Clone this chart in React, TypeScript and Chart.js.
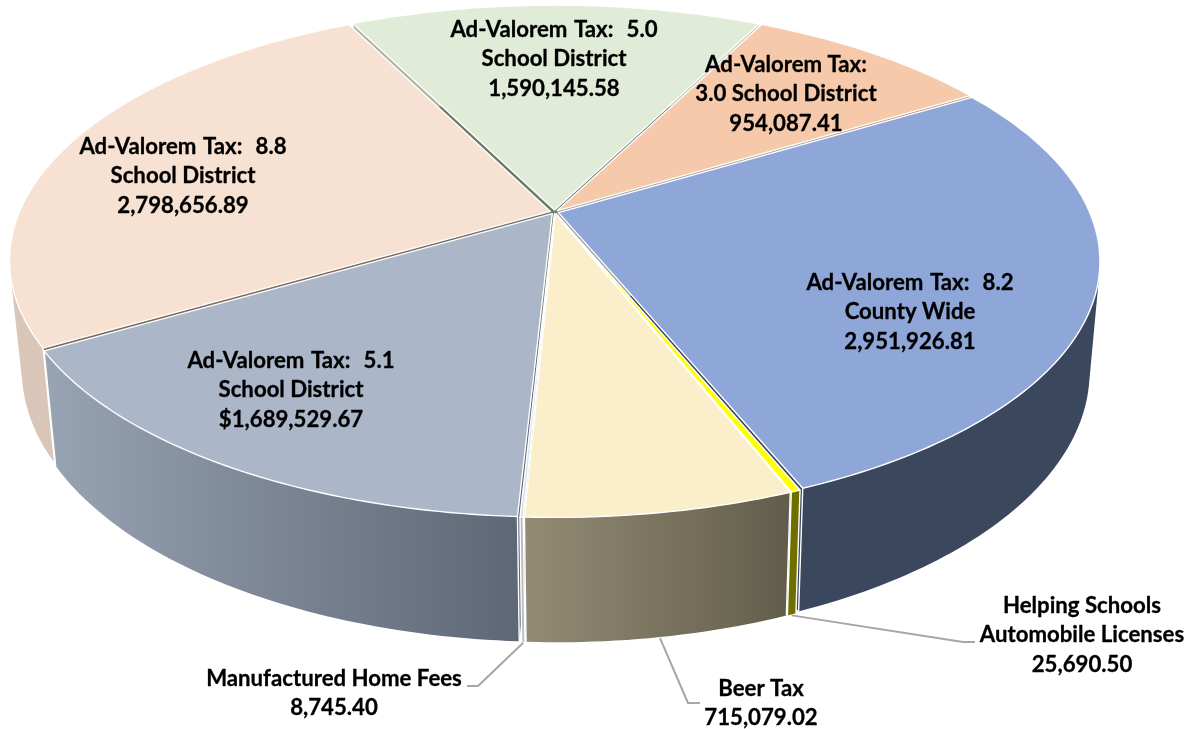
import React, { useEffect, useRef } from "react";
import { Chart, registerables } from "chart.js";

Chart.register(...registerables);

// ---- data ----
const categories = [
  "Ad-Valorem Tax: 8.2 County Wide",
  "Helping Schools Automobile Licenses",
  "Beer Tax",
  "Manufactured Home Fees",
  "Ad-Valorem Tax: 5.1 School District",
  "Ad-Valorem Tax: 8.8 School District",
  "Ad-Valorem Tax: 5.0 School District",
  "Ad-Valorem Tax: 3.0 School District",
];
const values = [2951926.81, 25690.5, 715079.02, 8745.4, 1689529.67, 2798656.89, 1590145.58, 954087.41];
const labelHeads = [
  ["Ad-Valorem Tax:  8.2", "County Wide"],
  ["Helping Schools", "Automobile Licenses"],
  ["Beer Tax"],
  ["Manufactured Home Fees"],
  ["Ad-Valorem Tax:  5.1", "School District"],
  ["Ad-Valorem Tax:  8.8", "School District"],
  ["Ad-Valorem Tax:  5.0", "School District"],
  ["Ad-Valorem Tax:", "3.0 School District"],
];
const valuePrefixes = ["", "", "", "", "$", "", "", ""];

// ---- styles ----
const topColors = ["#8EA7D8", "#FFFF00", "#FAEECB", "#DDE3EC", "#ABB7C9", "#F7E1D2", "#E0ECD7", "#F5C9AA"];
const wallColorsA = ["#3A475C", "#6F6F00", "#938B74", "#B8BEC8", "#98A3B3", "#DAC6B8", "#A8B3A0", "#B8977F"];
const wallColorsB = ["#3A475C", "#6F6F00", "#625D4B", "#B8BEC8", "#5D6775", "#DAC6B8", "#A8B3A0", "#B8977F"];
const radialColors = ["#3A475C", "#6F6F00", "#625D4B", "#9AA0AA", "#5D6775", "#7A6A60", "#6E7868", "#A0A0A0"];
const labelCenters = [
  [910, 283], [1082, 606], [761, 689], [334, 679],
  [291, 361], [183, 147], [554, 30], [786, 65],
];
const leaderElbows: (number[][] | null)[] = [
  null,
  [[963, 642], [975, 642]],
  [[688, 703], [700, 703]],
  [[478, 686], [467, 686]],
  null, null, null, null,
];
const ROTATION = 58.85;
const LINE_STEP = 29.3;
const FONT = "bold 22.2px Lato";
const PERSPECTIVE = 0.191;
const TOP_PLANE = { x: 554.5, y: 212, a: 531, b: 244.7 };
const BOTTOM_PLANE = { x: 555.5, y: 319, a: 520, b: 259 };
const EXPLODE = 0.008;

type Plane = typeof TOP_PLANE;
type Pt = [number, number];

function project(p: Plane, u: number, v: number): Pt {
  const w = 1 - PERSPECTIVE * v;
  return [p.x + (p.a * u) / w, p.y + (p.b * v) / w];
}

function arcSamples(start: number, end: number): number[] {
  const n = Math.max(2, Math.ceil((end - start) / (Math.PI / 180)) + 1);
  const out: number[] = [];
  for (let i = 0; i < n; i++) out.push(start + ((end - start) * i) / (n - 1));
  return out;
}

function addPoly(ctx: CanvasRenderingContext2D, pts: Pt[]) {
  let area = 0;
  pts.forEach((p, i) => {
    const q = pts[(i + 1) % pts.length];
    area += p[0] * q[1] - q[0] * p[1];
  });
  const ordered = area < 0 ? [...pts].reverse() : pts;
  ordered.forEach(([x, y], i) => (i ? ctx.lineTo(x, y) : ctx.moveTo(x, y)));
  ctx.closePath();
}

function strokeLine(ctx: CanvasRenderingContext2D, pts: Pt[]) {
  ctx.beginPath();
  pts.forEach(([x, y], i) => (i ? ctx.lineTo(x, y) : ctx.moveTo(x, y)));
  ctx.stroke();
}

const pie3d = {
  id: "pie3d",
  beforeDatasetsDraw(chart: any) {
    const ctx: CanvasRenderingContext2D = chart.ctx;
    const arcs = chart.getDatasetMeta(0).data;
    const geo = arcs.map((el: any) => {
      const { startAngle, endAngle } = el.getProps(["startAngle", "endAngle"], true);
      const mid = (startAngle + endAngle) / 2;
      const du = EXPLODE * Math.cos(mid);
      const dv = EXPLODE * Math.sin(mid);
      const at = (p: Plane, t: number) => project(p, Math.cos(t) + du, Math.sin(t) + dv);
      const apex = (p: Plane) => project(p, du, dv);
      return { samples: arcSamples(startAngle, endAngle), startAngle, endAngle, mid, at, apex };
    });

    ctx.save();
    ctx.lineJoin = "round";

    // radial inner faces
    geo.forEach((g: any, i: number) => {
      [g.startAngle, g.endAngle].forEach((t: number) => {
        ctx.beginPath();
        addPoly(ctx, [g.apex(TOP_PLANE), g.at(TOP_PLANE, t), g.at(BOTTOM_PLANE, t), g.apex(BOTTOM_PLANE)]);
        ctx.fillStyle = radialColors[i];
        ctx.fill();
      });
    });

    // outer walls: union of small quads between the top rim and the bottom rim
    geo.forEach((g: any, i: number) => {
      const topPts: Pt[] = g.samples.map((t: number) => g.at(TOP_PLANE, t));
      const botPts: Pt[] = g.samples.map((t: number) => g.at(BOTTOM_PLANE, t));
      const xs = [...topPts, ...botPts].map((p) => p[0]);
      const grad = ctx.createLinearGradient(Math.min(...xs), 0, Math.max(...xs), 0);
      grad.addColorStop(0, wallColorsA[i]);
      grad.addColorStop(1, wallColorsB[i]);
      ctx.beginPath();
      for (let k = 0; k + 1 < topPts.length; k++) {
        addPoly(ctx, [topPts[k], topPts[k + 1], botPts[k + 1], botPts[k]]);
      }
      ctx.fillStyle = grad;
      ctx.fill();
      ctx.strokeStyle = "#FFFFFF";
      ctx.lineWidth = 1.4;
      strokeLine(ctx, [topPts[0], botPts[0]]);
      strokeLine(ctx, [topPts[topPts.length - 1], botPts[botPts.length - 1]]);
    });

    // top faces
    geo.forEach((g: any, i: number) => {
      const pts: Pt[] = [g.apex(TOP_PLANE), ...g.samples.map((t: number) => g.at(TOP_PLANE, t))];
      ctx.beginPath();
      addPoly(ctx, pts);
      ctx.fillStyle = topColors[i];
      ctx.fill();
      ctx.strokeStyle = "#FFFFFF";
      ctx.lineWidth = 1.4;
      ctx.stroke();
    });

    // leader lines
    geo.forEach((g: any, i: number) => {
      const elbow = leaderElbows[i];
      if (!elbow) return;
      const [sx, sy] = g.at(BOTTOM_PLANE, g.mid);
      ctx.strokeStyle = "#A6A6A6";
      ctx.lineWidth = 2;
      strokeLine(ctx, [[sx, sy + 1], ...(elbow as Pt[])]);
    });

    // labels
    ctx.font = FONT;
    ctx.fillStyle = "#000000";
    ctx.strokeStyle = "#000000";
    ctx.lineWidth = 0.3;
    ctx.textAlign = "center";
    ctx.textBaseline = "middle";
    values.forEach((val, i) => {
      const text =
        valuePrefixes[i] +
        val.toLocaleString("en-US", { minimumFractionDigits: 2, maximumFractionDigits: 2 });
      const lines = [...labelHeads[i], text];
      lines.forEach((line, j) => {
        const x = labelCenters[i][0];
        const y = labelCenters[i][1] + j * LINE_STEP;
        (ctx as any).wordSpacing = line.includes("  ") ? "1.2px" : "0px";
        ctx.fillText(line, x, y);
        ctx.strokeText(line, x, y);
      });
    });

    ctx.restore();
    return false;
  },
};

export default function App() {
  const ref = useRef<HTMLCanvasElement | null>(null);
  useEffect(() => {
    if (!ref.current) return;
    const chart = new Chart(ref.current, {
      type: "pie",
      data: {
        labels: categories,
        datasets: [{ data: values, backgroundColor: topColors, borderColor: "#FFFFFF" }],
      },
      options: {
        responsive: false,
        animation: false,
        rotation: ROTATION,
        plugins: { legend: { display: false }, tooltip: { enabled: false } },
      },
      plugins: [pie3d],
    } as any);
    return () => chart.destroy();
  }, []);
  return (
    <div style={{ position: "fixed", left: 0, top: 0, background: "#fff" }}>
      <canvas ref={ref} width={1196} height={729} style={{ display: "block" }} />
    </div>
  );
}
